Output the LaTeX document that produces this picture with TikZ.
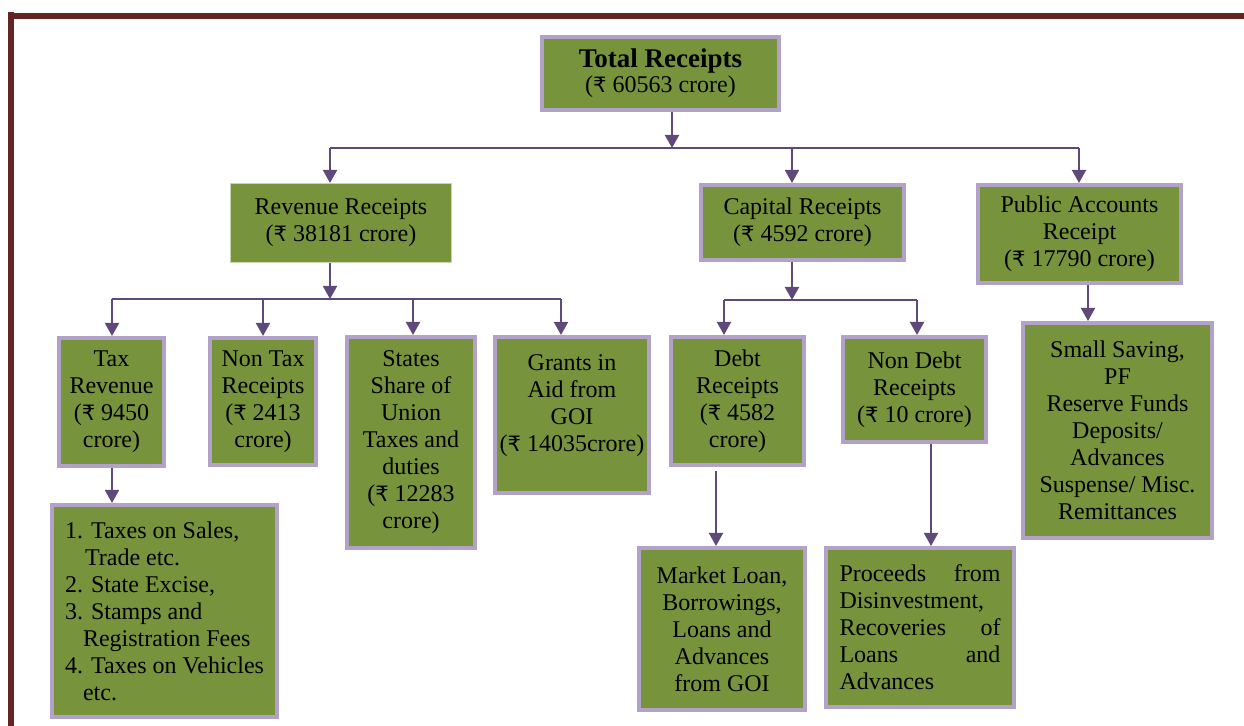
\documentclass[tikz,border=0pt]{standalone}
\usepackage{fontspec}
\setmainfont{Liberation Serif}
\newfontfamily\rupeefont{DejaVu Sans}[Scale=0.88]
\newcommand{\rupee}{{\rupeefont ₹}}
\usetikzlibrary{arrows.meta, positioning}
\definecolor{boxfill}{HTML}{77933C}
\definecolor{boxedge}{HTML}{B3A2C7}
\definecolor{linkcol}{HTML}{5F497A}
\definecolor{framecol}{HTML}{632523}

\begin{document}
\begin{tikzpicture}[
    x=0.5pt, y=-0.5pt,
    block/.style={rectangle, draw=boxedge, line width=2pt, fill=boxfill, inner sep=0pt, align=center, font=\fontsize{12}{13.5}\selectfont},
    boxsize/.style 2 args={minimum width=#1, minimum height=#2},
    link/.style={draw=linkcol, line width=1pt},
    arrow/.style={link, -{Triangle[width=7pt,length=6.5pt]}}
]
\useasboundingbox (0,0) rectangle (1244,726);

% Page frame
\fill[framecol] (8,13) rectangle (1244,19);
\fill[framecol] (8,12) rectangle (14,726);

% Top level
\node[block, boxsize={118.5pt}{36.5pt}] (total) at (660.5,73.5) {{\fontsize{13.5}{13.5}\selectfont\bfseries Total Receipts}\\[-1pt](\rupee\ 60563 crore)};

% Second level
\node[block, draw=boxfill!40!white, line width=0.5pt, boxsize={110.5pt}{39.5pt}] (rev) at (341,223) {Revenue Receipts\\(\rupee\ 38181 crore)};
\node[block, boxsize={101.5pt}{37.5pt}] (cap) at (802.5,222.5) {Capital Receipts\\(\rupee\ 4592 crore)};
\node[block, boxsize={101.5pt}{49pt}] (pub) at (1079.5,234) {Public Accounts\\Receipt\\(\rupee\ 17790 crore)};

% Third level
\node[block, boxsize={52.5pt}{64pt}] (tax) at (111.5,402) {Tax\\Revenue\\(\rupee\ 9450\\crore)};
\node[block, boxsize={53pt}{63.5pt}] (nontax) at (263,401.5) {Non Tax\\Receipts\\(\rupee\ 2413\\crore)};
\node[block, boxsize={64pt}{105.5pt}] (states) at (411,442.5) {States\\Share of\\Union\\Taxes and\\duties\\(\rupee\ 12283\\crore)};
\node[block, text depth=12pt, boxsize={77pt}{78pt}] (grants) at (572,415) {Grants in\\Aid from\\GOI\\(\rupee\ 14035crore)};
\node[block, boxsize={66.5pt}{64pt}] (debt) at (737.5,401) {Debt\\Receipts\\(\rupee\ 4582\\crore)};
\node[block, boxsize={71.5pt}{52.5pt}] (nondebt) at (914.5,389.5) {Non Debt\\Receipts\\(\rupee\ 10 crore)};
\node[block, boxsize={94.5pt}{107.5pt}] (savings) at (1117.5,430.5) {Small Saving,\\PF\\Reserve Funds\\Deposits/\\Advances\\Suspense/ Misc.\\Remittances};

% Fourth level
\node[block, align=left, boxsize={112.5pt}{106pt}] (taxlist) at (164.5,611) {1. Taxes on Sales,\\\hspace*{10pt}Trade etc.\\2. State Excise,\\3. Stamps and\\\hspace*{9pt}Registration Fees\\4. Taxes on Vehicles\\\hspace*{9pt}etc.};
\node[block, boxsize={83pt}{81pt}] (market) at (722,629) {Market Loan,\\Borrowings,\\Loans and\\Advances\\from GOI};
\node[block, text width=80.5pt, align=left, boxsize={94pt}{79.5pt}] (proceeds) at (920,627.5) {Proceeds\hfill from\\Disinvestment,\\Recoveries\hfill of\\Loans\hfill and\\Advances};

% Arrows from Total Receipts
\coordinate (bus1) at (672,148);
\coordinate (bus1L) at (330,148);
\coordinate (bus1C) at (792,148);
\coordinate (bus1R) at (1079,148);
\draw[arrow] (total.south -| bus1) -- (bus1);
\draw[link] (bus1L) -- (bus1R);
\draw[arrow] (bus1L) -- (bus1L |- rev.north);
\draw[arrow] (bus1C) -- (bus1C |- cap.north);
\draw[arrow] (bus1R) -- (bus1R |- pub.north);

% Arrows from Revenue Receipts
\coordinate (bus2) at (330,299);
\coordinate (bus2L) at (112,299);
\coordinate (bus2R) at (561,299);
\draw[arrow] (rev.south -| bus2) -- (bus2);
\draw[link] (bus2L) -- (bus2R);
\foreach \x/\kid in {112/tax, 263/nontax, 413/states, 561/grants}{
  \coordinate (drop) at (\x,299);
  \draw[arrow] (drop) -- (drop |- \kid.north);
}

% Arrows from Capital Receipts
\coordinate (bus3) at (792,300);
\coordinate (bus3L) at (724,300);
\coordinate (bus3R) at (917,300);
\draw[arrow] (cap.south -| bus3) -- (bus3);
\draw[link] (bus3L) -- (bus3R);
\draw[arrow] (bus3L) -- (bus3L |- debt.north);
\draw[arrow] (bus3R) -- (bus3R |- nondebt.north);

% Single drops
\coordinate (colP) at (1088,300);
\coordinate (colT) at (112,480);
\coordinate (colD) at (716,480);
\coordinate (colN) at (931,480);
\draw[arrow] (pub.south -| colP) -- (colP |- savings.north);
\draw[arrow] (tax.south -| colT) -- (colT |- taxlist.north);
\draw[arrow, shorten <=2pt] (debt.south -| colD) -- (colD |- market.north);
\draw[arrow] (nondebt.south -| colN) -- (colN |- proceeds.north);

\end{tikzpicture}
\end{document}
